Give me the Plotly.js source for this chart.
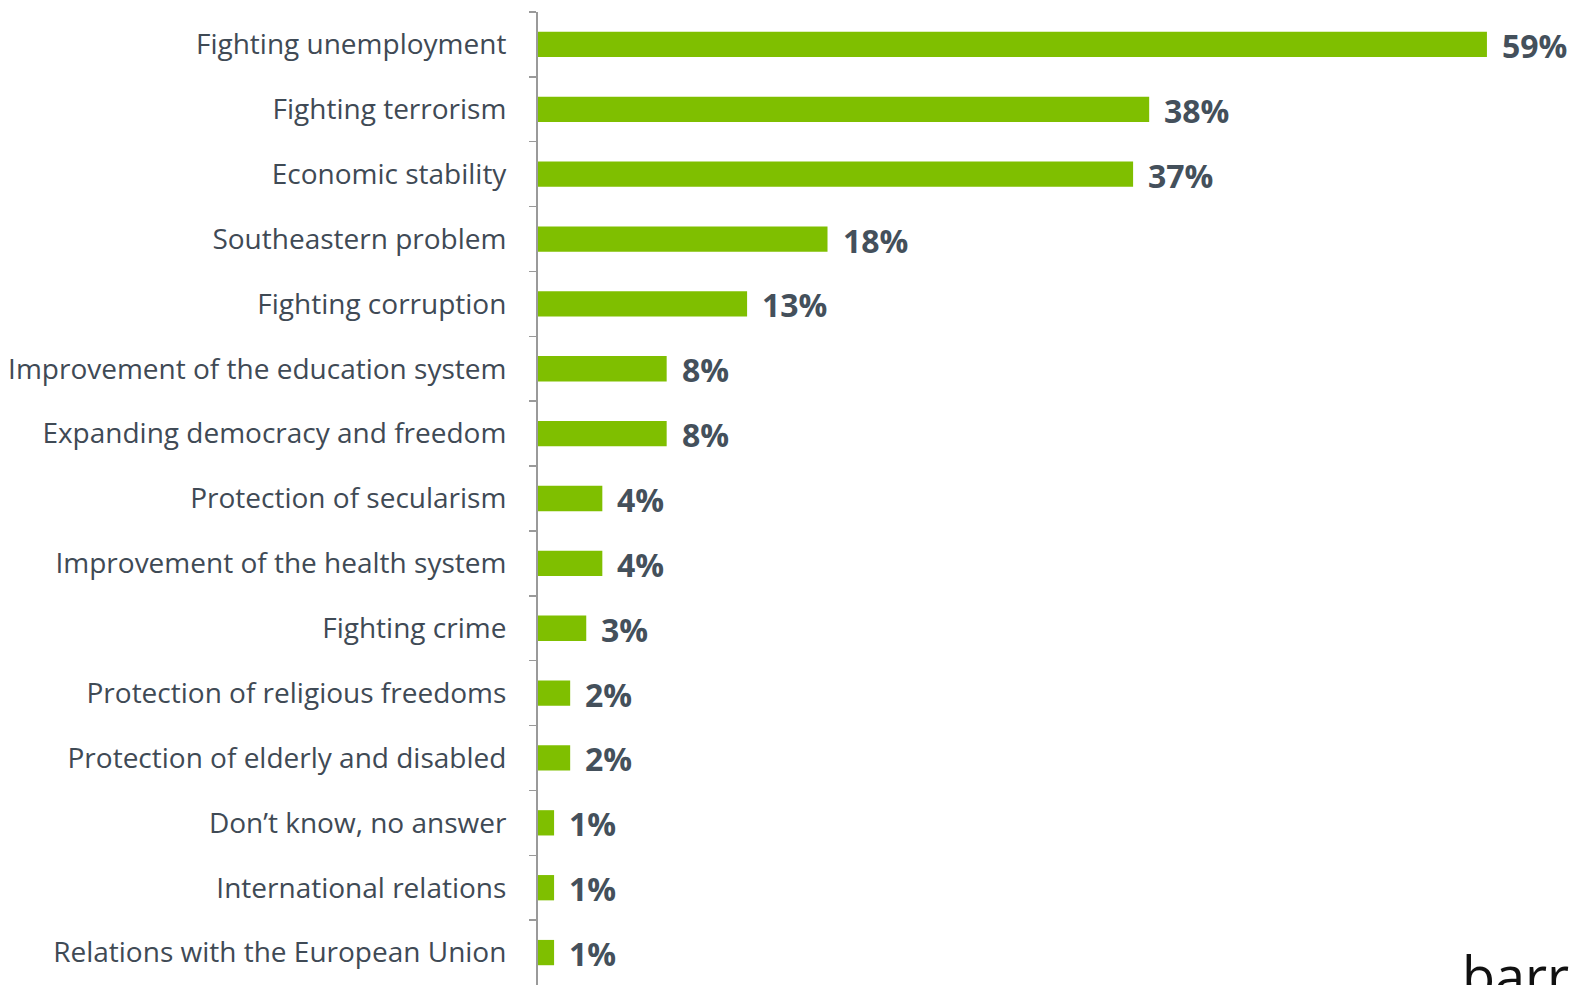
<!DOCTYPE html>
<html>
<head>
<meta charset="utf-8">
<script src="https://cdn.plot.ly/plotly-3.0.1.min.js"></script>
<style>
html,body{margin:0;padding:0;background:#fff;}
#chart{width:1573px;height:985px;}
</style>
</head>
<body>
<div id="chart"></div>
<script>
const categories = [
  "Fighting unemployment",
  "Fighting terrorism",
  "Economic stability",
  "Southeastern problem",
  "Fighting corruption",
  "Improvement of the education system",
  "Expanding democracy and freedom",
  "Protection of secularism",
  "Improvement of the health system",
  "Fighting crime",
  "Protection of religious freedoms",
  "Protection of elderly and disabled",
  "Don\u2019t know, no answer",
  "International relations",
  "Relations with the European Union"
];
const values = [59, 38, 37, 18, 13, 8, 8, 4, 4, 3, 2, 2, 1, 1, 1];
const valueLabels = values.map(v => v + "%");

const trace = {
  type: "bar",
  orientation: "h",
  x: values,
  y: categories,
  marker: {color: "#7fbf00"},
  hoverinfo: "skip"
};

const valueAnnotations = categories.map((c, i) => ({
  xref: "x", yref: "y",
  x: values[i], y: c,
  text: valueLabels[i],
  xanchor: "left", yanchor: "middle",
  xshift: 13, yshift: -1,
  showarrow: false,
  font: {family: "Open Sans, sans-serif", size: 32, color: "#44505b", weight: 700}
}));

const layout = {
  width: 1573,
  height: 985,
  margin: {l: 538, r: 74, t: 12, b: 0},
  paper_bgcolor: "#ffffff",
  plot_bgcolor: "#ffffff",
  bargap: 0.61,
  showlegend: false,
  xaxis: {
    range: [0, 59.75],
    visible: false,
    showgrid: false,
    zeroline: false
  },
  yaxis: {
    autorange: "reversed",
    type: "category",
    tickson: "boundaries",
    ticks: "outside",
    ticklen: 7,
    tickwidth: 1.5,
    tickcolor: "#9a9a9a",
    showline: true,
    linecolor: "#9a9a9a",
    linewidth: 2,
    showgrid: false,
    zeroline: false,
    ticklabelstandoff: 24,
    tickfont: {family: "Open Sans, sans-serif", size: 28, color: "#3f4a55"}
  },
  annotations: valueAnnotations.concat([{
    xref: "paper", yref: "paper",
    x: (1460 - 538) / 961, y: -0.03,
    xanchor: "left", yanchor: "bottom",
    text: "barr",
    showarrow: false,
    font: {family: "Open Sans, sans-serif", size: 54, color: "#111111"}
  }])
};

Plotly.newPlot("chart", [trace], layout, {displayModeBar: false, staticPlot: true});
</script>
</body>
</html>
